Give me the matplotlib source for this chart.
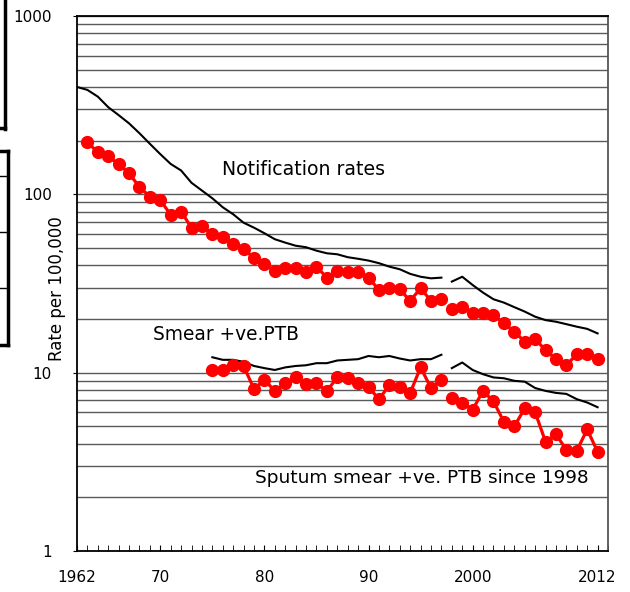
import numpy as np
import matplotlib
matplotlib.use("Agg")
import matplotlib.pyplot as plt
from matplotlib.ticker import LogLocator, FixedLocator, NullFormatter
from matplotlib.lines import Line2D

# --- data (rate per 100,000) ---
years_a = list(range(1962, 1998))
notif_all_a = [400, 385, 353, 308, 278, 250, 220, 192, 168, 148, 136, 116,
               105, 95, 84.6, 77.3, 69.3, 65.0, 60.5, 56.0, 53.6, 51.5, 50.5,
               48.3, 46.7, 46.1, 44.4, 43.5, 42.5, 41.1, 39.3, 38.0, 35.8,
               34.5, 33.8, 34.1]
years_b = list(range(1998, 2013))
notif_all_b = [32.4, 34.5, 31.0, 28.1, 25.8, 24.7, 23.3, 22.0, 20.6, 19.7,
               19.3, 18.7, 18.1, 17.6, 16.6]

years_red_a = list(range(1963, 1998))
notif_red_a = [196, 172, 163, 148, 131, 110, 97, 93, 76.6, 79.9, 65.0, 66.7,
               59.7, 57.4, 52.5, 49.2, 44.1, 40.5, 37.3, 38.5, 38.5, 36.8,
               39.3, 34.1, 37.3, 36.8, 36.8, 34.1, 29.1, 29.7, 29.3, 25.3,
               29.7, 25.3, 25.8]
notif_red_b = [22.7, 23.3, 21.7, 21.5, 21.1, 18.9, 17.0, 14.9, 15.4, 13.4,
               11.9, 11.0, 12.7, 12.7, 11.9]

years_smear = list(range(1975, 1998))
smear_all = [12.2, 11.8, 11.8, 11.5, 10.9, 10.6, 10.35, 10.7, 10.9, 11.0,
             11.3, 11.3, 11.7, 11.8, 11.9, 12.4, 12.2, 12.4, 12.0, 11.7,
             11.9, 11.9, 12.6]
smear_red = [10.35, 10.3, 11.0, 10.9, 8.1, 9.1, 7.9, 8.7, 9.4, 8.6, 8.7, 7.9,
             9.4, 9.35, 8.8, 8.3, 7.1, 8.5, 8.3, 7.7, 10.7, 8.2, 9.1]
sputum_all = [10.6, 11.4, 10.35, 9.8, 9.4, 9.3, 9.0, 8.9, 8.2, 7.9, 7.7, 7.6,
              7.1, 6.8, 6.4]
sputum_red = [7.2, 6.8, 6.2, 7.9, 6.9, 5.3, 5.0, 6.3, 6.0, 4.1, 4.5, 3.7,
              3.65, 4.8, 3.6]

xtick_years = [1962, 1970, 1980, 1990, 2000, 2012]
xtick_labels = ["1962", "70", "80", "90", "2000", "2012"]
ytick_vals = [1, 10, 100, 1000]
ytick_labels = ["1", "10", "100", "1000"]

fig = plt.figure(figsize=(6.3, 5.92), dpi=100)
ax = fig.add_axes([0.1222, 0.0693, 0.8429, 0.9037])

red_kw = dict(color="#ff0000", lw=2.3, marker="o", ms=8.5, zorder=4)
blk_kw = dict(color="black", lw=1.5, zorder=3)

ax.plot(years_a, notif_all_a, **blk_kw)
ax.plot(years_b, notif_all_b, **blk_kw)
ax.plot(years_smear, smear_all, **blk_kw)
ax.plot(years_b, sputum_all, **blk_kw)

ax.plot(years_red_a, notif_red_a, **red_kw)
ax.plot(years_b, notif_red_b, **red_kw)
ax.plot(years_smear, smear_red, **red_kw)
ax.plot(years_b, sputum_red, **red_kw)

ax.set_yscale("log")
ax.set_ylim(1, 1000)
ax.set_xlim(1962, 2013)

ax.yaxis.set_major_locator(FixedLocator(ytick_vals))
ax.set_yticklabels(ytick_labels)
ax.yaxis.set_minor_locator(LogLocator(base=10, subs=np.arange(2, 10)))
ax.yaxis.set_minor_formatter(NullFormatter())
ax.grid(axis="y", which="both", color="#5a5a5a", lw=1.0)
ax.tick_params(axis="y", which="major", direction="out", length=3,
               labelsize=11, pad=15)
ax.tick_params(axis="y", which="minor", length=0)

ax.set_xticks(xtick_years)
ax.set_xticklabels(xtick_labels)
ax.xaxis.set_minor_locator(FixedLocator(range(1962, 2014)))
ax.tick_params(axis="x", which="both", direction="in", length=4,
               labelsize=11, pad=14)

for sp in ax.spines.values():
    sp.set_linewidth(1.3)
ax.spines["right"].set_color("#555555")

# y label sits inside the tick-label column, as in the original
ax.text(-0.0377, 0.49, "Rate per 100,000", transform=ax.transAxes,
        rotation=90, fontsize=12, ha="center", va="center")

ax.text(1975.9, 137, "Notification rates", fontsize=13.6, va="center")
ax.text(1969.3, 16.3, "Smear +ve.PTB", fontsize=13.4, va="center")
ax.text(1979.1, 2.57, "Sputum smear +ve. PTB since 1998", fontsize=13.3,
        va="center")

# cropped boxes at left edge of the original picture
W, H = 630, 592
def seg(x0, y0, x1, y1, lw=2.5):
    fig.add_artist(Line2D([x0 / W, x1 / W], [1 - y0 / H, 1 - y1 / H],
                          color="black", lw=lw, transform=fig.transFigure))
seg(5, 0, 5, 129)
seg(0, 128, 5, 128)
seg(8, 151, 8, 345)
seg(0, 151, 8, 151)
seg(0, 345, 8, 345)
for yy in (176, 232, 288):
    seg(0, yy, 8, yy, lw=1.0)

fig.savefig("out.png", dpi=100)
